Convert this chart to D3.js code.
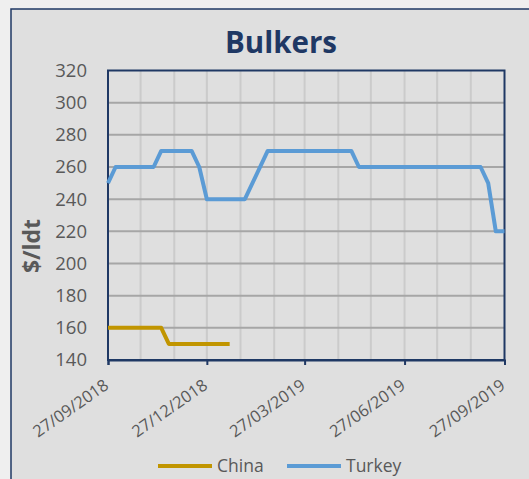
<!DOCTYPE html>
<html lang="en">
<head>
  <meta charset="utf-8">
  <script src="https://d3js.org/d3.v7.min.js"></script>
  <title>Bulkers</title>
  <style>
    body { margin: 0; background: #efefef; }
    svg { display: block; font-family: "Open Sans", sans-serif; }
    .axis text { fill: #595959; font-size: 18.5px; }
    .xlab { fill: #595959; font-size: 16.5px; }
    .legend text { fill: #595959; font-size: 17.5px; }
  </style>
</head>
<body>
<svg id="chart" width="529" height="479"></svg>
<script>
// values (weekly prices, only the turning points)
var turkeyDates = ["2018-09-27", "2018-10-04", "2018-11-08", "2018-11-15", "2018-12-13", "2018-12-20",
                   "2018-12-27", "2019-01-31", "2019-02-21", "2019-05-09", "2019-05-16", "2019-09-05",
                   "2019-09-12", "2019-09-19", "2019-09-27"];
var turkeyValues = [250, 260, 260, 270, 270, 260, 240, 240, 270, 270, 260, 260, 250, 220, 220];

var chinaDates = ["2018-09-27", "2018-11-15", "2018-11-22", "2019-01-17"];
var chinaValues = [160, 160, 150, 150];

var seriesNames = ["China", "Turkey"];
var seriesColors = ["#c19500", "#5b9bd5"];

var xTickLabels = ["27/09/2018", "27/12/2018", "27/03/2019", "27/06/2019", "27/09/2019"];
var yTicks = [140, 160, 180, 200, 220, 240, 260, 280, 300, 320];

var parseDay = d3.utcParse("%Y-%m-%d"),
    parseLabel = d3.utcParse("%d/%m/%Y");

var plot = {left: 108, right: 504.5, top: 70.5, bottom: 360};

var svg = d3.select("#chart");

// chart area
svg.append("rect")
    .attr("x", 11).attr("y", 9)
    .attr("width", 700).attr("height", 700)
    .attr("fill", "#dfdfdf")
    .attr("stroke", "#1f3864")
    .attr("stroke-width", 1.5);

var start = parseLabel(xTickLabels[0]),
    end = parseLabel(xTickLabels[xTickLabels.length - 1]);

var x = d3.scaleUtc()
    .domain([start, end])
    .range([plot.left, plot.right]);

var y = d3.scaleLinear()
    .domain([140, 320])
    .range([plot.bottom, plot.top]);

// monthly vertical gridlines
var months = d3.range(1, 12).map(function(i) { return d3.utcMonth.offset(start, i); });
svg.append("g").selectAll("line")
    .data(months)
  .enter().append("line")
    .attr("x1", function(d) { return x(d); })
    .attr("x2", function(d) { return x(d); })
    .attr("y1", plot.top)
    .attr("y2", plot.bottom)
    .attr("stroke", "#cbcbcb")
    .attr("stroke-width", 2);

// horizontal gridlines
svg.append("g").selectAll("line")
    .data(yTicks.slice(1, -1))
  .enter().append("line")
    .attr("x1", plot.left)
    .attr("x2", plot.right)
    .attr("y1", function(d) { return y(d); })
    .attr("y2", function(d) { return y(d); })
    .attr("stroke", "#a6a6a6")
    .attr("stroke-width", 2);

// plot frame
svg.append("rect")
    .attr("x", plot.left).attr("y", plot.top)
    .attr("width", plot.right - plot.left)
    .attr("height", plot.bottom - plot.top)
    .attr("fill", "none")
    .attr("stroke", "#1f3864")
    .attr("stroke-width", 2);

// y axis labels
var yAxis = svg.append("g")
    .attr("class", "axis")
    .attr("transform", "translate(" + plot.left + ",0)")
    .call(d3.axisLeft(y).tickValues(yTicks).tickSize(0).tickPadding(21));
yAxis.select(".domain").remove();
yAxis.selectAll("text").style("font-family", "'Open Sans', sans-serif");

// x axis
var xTicks = xTickLabels.map(parseLabel);
var xAxis = svg.append("g")
    .attr("transform", "translate(0," + plot.bottom + ")")
    .call(d3.axisBottom(x).tickValues(xTicks).tickSize(5).tickFormat(""));
xAxis.select(".domain").attr("stroke", "#1f3864").attr("stroke-width", 2);
xAxis.selectAll(".tick line").attr("stroke", "#1f3864").attr("stroke-width", 2);

svg.append("g").selectAll("text")
    .data(xTickLabels)
  .enter().append("text")
    .attr("class", "xlab")
    .attr("text-anchor", "end")
    .attr("dy", "0.35em")
    .attr("transform", function(d) {
      return "translate(" + (x(parseLabel(d)) - 1.5) + "," + (plot.bottom + 23) + ") rotate(-35)";
    })
    .text(function(d) { return d; });

// lines
var line = d3.line()
    .x(function(d) { return x(d.date); })
    .y(function(d) { return y(d.value); });

var series = [
  chinaDates.map(function(d, i) { return {date: parseDay(d), value: chinaValues[i]}; }),
  turkeyDates.map(function(d, i) { return {date: parseDay(d), value: turkeyValues[i]}; })
];

svg.append("g").selectAll("path")
    .data(series)
  .enter().append("path")
    .attr("d", line)
    .attr("fill", "none")
    .attr("stroke", function(d, i) { return seriesColors[i]; })
    .attr("stroke-width", 4)
    .attr("stroke-linejoin", "round");

// title
svg.append("text")
    .attr("x", 281)
    .attr("y", 53)
    .attr("text-anchor", "middle")
    .attr("fill", "#1f3864")
    .style("font-size", "29.5px")
    .style("font-weight", "bold")
    .text("Bulkers");

// y label
svg.append("text")
    .attr("transform", "translate(40,246) rotate(-90)")
    .attr("text-anchor", "middle")
    .attr("fill", "#595959")
    .style("font-size", "23px")
    .style("font-weight", "bold")
    .text("$/ldt");

// legend
var legendX = [158, 287];
var legend = svg.append("g").attr("class", "legend")
    .selectAll("g")
    .data(seriesNames)
  .enter().append("g")
    .attr("transform", function(d, i) { return "translate(" + legendX[i] + ",466)"; });

legend.append("line")
    .attr("x1", 0).attr("x2", 54)
    .attr("stroke", function(d, i) { return seriesColors[i]; })
    .attr("stroke-width", 4);

legend.append("text")
    .attr("x", 59)
    .attr("dy", "0.35em")
    .text(function(d) { return d; });
</script>
</body>
</html>
